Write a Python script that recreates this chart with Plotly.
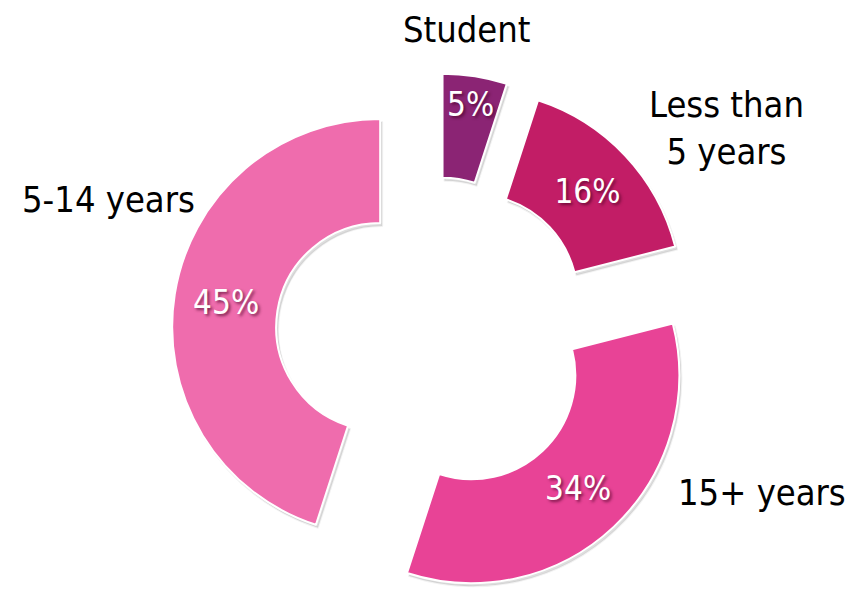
import plotly.graph_objects as go

# Years of experience breakdown
categories = ["Student", "Less than 5 years", "15+ years", "5-14 years"]
shares = [5, 16, 34, 45]
slice_colors = ["#8B2474", "#C21D66", "#E84396", "#EF6CAD"]

# Outside category captions (text, x px, y px)
captions = [
    ("Student", 467, 30),
    ("Less than<br>5 years", 726, 128),
    ("15+ years", 762, 492),
    ("5-14 years", 108, 200),
]

W, H = 858, 601
FONT = "DejaVu Sans Condensed, Liberation Sans Narrow, Roboto, sans-serif"

pull = 0.262
radius_px = 208
box_h = 2 * radius_px * (1 + pull)
cx = 434
shadow_dx, shadow_dy = 2, 3


def donut(colors, x0, y0, line, text):
    return go.Pie(
        labels=categories,
        values=shares,
        sort=False,
        direction="clockwise",
        rotation=0,
        hole=0.5,
        pull=[pull] * len(shares),
        marker=dict(colors=colors, line=line),
        texttemplate="%{percent:.0%}" if text else "",
        textposition="inside" if text else "none",
        insidetextorientation="horizontal",
        textfont=dict(family=FONT, size=33, color="white",
                      shadow="2px 2px 3px rgba(70,0,35,0.65)"),
        showlegend=False,
        hoverinfo="label+percent" if text else "skip",
        domain=dict(x=[x0 / W, (x0 + 600) / W], y=[y0 / H, (y0 + box_h) / H]),
    )


fig = go.Figure()
# soft drop shadow beneath the slices
fig.add_trace(donut(["rgba(0,0,0,0.13)"] * len(shares), cx - 300 + shadow_dx, 0,
                    dict(color="rgba(0,0,0,0.05)", width=2), False))
fig.add_trace(donut(slice_colors, cx - 300, shadow_dy,
                    dict(color="white", width=2), True))

for text, px, py in captions:
    fig.add_annotation(
        text=text, x=px / W, y=1 - py / H, xref="paper", yref="paper",
        showarrow=False, xanchor="center", yanchor="middle",
        font=dict(family=FONT, size=36, color="black"),
    )

fig.update_layout(
    width=W, height=H,
    margin=dict(l=0, r=0, t=0, b=0),
    paper_bgcolor="white",
    plot_bgcolor="white",
    uniformtext=dict(mode="show", minsize=33),
)

fig.write_html("out.html")
